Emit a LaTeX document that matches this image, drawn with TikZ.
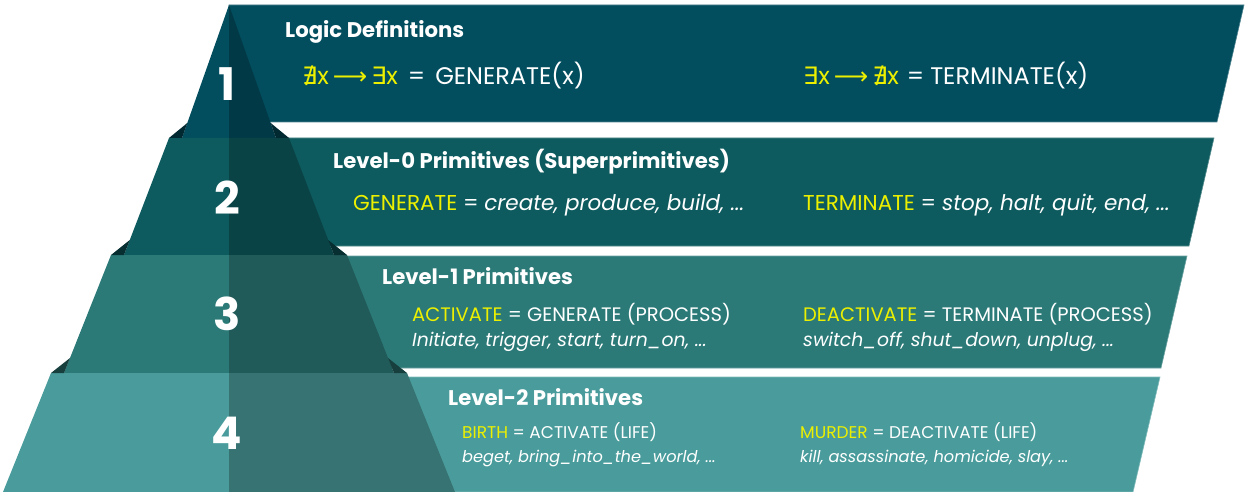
\documentclass[tikz,border=0pt]{standalone}
\usepackage{fontspec}
\setmainfont{Poppins}
\newfontfamily\symfont{DejaVu Sans}
\usepackage{xcolor}
\definecolor{lvlA}{HTML}{024E5F}
\definecolor{lvlB}{HTML}{0D5B5E}
\definecolor{lvlC}{HTML}{2B7A78}
\definecolor{lvlD}{HTML}{4A9C9C}
\definecolor{hilite}{RGB}{236,240,0}
\newcommand\keyw[1]{\textcolor{hilite}{#1}}
\newcommand\sym[1]{{\symfont #1}}
\tikzset{
  band/.style  = {fill=#1, draw=#1!70!white, line width=0.6pt},
  face/.style  = {fill=#1},
  dark/.style  = {fill=#1!74!black},
  lip/.style   = {fill=#1!52!black},
  num/.style   = {inner sep=0pt, text=white, font=\bfseries\fontsize{45}{50}\selectfont},
  head/.style  = {anchor=base west, inner sep=0pt, text=white, font=\bfseries\fontsize{21.2}{24}\selectfont},
  entry/.style = {anchor=base west, inner sep=0pt, text=white, font=\fontsize{#1}{#1}\selectfont},
}

\begin{document}
\begin{tikzpicture}[x=1pt, y=-1pt]
  \useasboundingbox (0,0) rectangle (1251,492);
  % bands
  \path[band=lvlA] (229,5) -- (1244,5) -- (1217,122) -- (229,122) -- cycle;
  \path[band=lvlB] (229,138) -- (1214,138) -- (1189,246) -- (229,246) -- cycle;
  \path[band=lvlC] (229,256) -- (1187,256) -- (1161,368) -- (229,368) -- cycle;
  \path[band=lvlD] (229,377) -- (1160,377) -- (1133,492) -- (229,492) -- cycle;
  % pyramid tiers
  \fill[face=lvlA] (229,5) -- (182,138) -- (229,138) -- cycle;
  \fill[dark=lvlA] (229,5) -- (276,138) -- (229,138) -- cycle;
  \fill[face=lvlB] (229,138) -- (169,138) -- (124,255) -- (229,255) -- cycle;
  \fill[dark=lvlB] (229,138) -- (289,138) -- (334,255) -- (229,255) -- cycle;
  \fill[face=lvlC] (229,255) -- (111,255) -- (64,373) -- (229,373) -- cycle;
  \fill[dark=lvlC] (229,255) -- (347,255) -- (394,373) -- (229,373) -- cycle;
  \fill[face=lvlD] (229,373) -- (51,373) -- (3,492) -- (229,492) -- cycle;
  \fill[dark=lvlD] (229,373) -- (407,373) -- (455,492) -- (229,492) -- cycle;
  % ledges under each tier
  \fill[lip=lvlA] (169,138) -- (187.3,123) -- (182,138) -- cycle;
  \fill[lip=lvlA] (289,138) -- (270.7,123) -- (276,138) -- cycle;
  \fill[lip=lvlB] (111,255) -- (129.8,240) -- (124,255) -- cycle;
  \fill[lip=lvlB] (347,255) -- (328.2,240) -- (334,255) -- cycle;
  \fill[lip=lvlC] (51,373) -- (70,358) -- (64,373) -- cycle;
  \fill[lip=lvlC] (407,373) -- (388,358) -- (394,373) -- cycle;

  \node[num] (n1) at (227,84) {1};
  \node[num] (n2) at (227,198) {2};
  \node[num] (n3) at (227,314) {3};
  \node[num] (n4) at (227,433) {4};

  \node[head] (h1) at (285,38) {Logic Definitions};
  \node[entry=24] (gen) at (302,85) {\keyw{\sym{∄}x\hspace{4pt}\sym{⟶}\hspace{4pt}\sym{∃}x}\hspace{10pt}=\hspace{10pt}GENERATE(x)};
  \node[entry=24] (term) at (803,85) {\keyw{\sym{∃}x\hspace{4pt}\sym{⟶}\hspace{4pt}\sym{∄}x}\hspace{8pt}=\hspace{6pt}TERMINATE(x)};

  \node[head] (h2) at (333,169) {Level-0 Primitives (Superprimitives)};
  \node[entry=21.5] (sgen) at (353,211) {\keyw{GENERATE} = \textit{create, produce, build, ...}};
  \node[entry=21.5] (sterm) at (803,211) {\keyw{TERMINATE} = \textit{stop, halt, quit, end, ...}};

  \node[head] (h3) at (382,284) {Level-1 Primitives};
  \node[entry=19.5] (act) at (412,321) {\keyw{ACTIVATE} = GENERATE (PROCESS)};
  \node[entry=18.8] (actx) at (412,346) {\textit{Initiate, trigger, start, turn\_on, ...}};
  \node[entry=19.5] (deact) at (803,321) {\keyw{DEACTIVATE} = TERMINATE (PROCESS)};
  \node[entry=18.8] (deactx) at (803,346) {\textit{switch\_off, shut\_down, unplug, ...}};

  \node[head] (h4) at (448,405) {Level-2 Primitives};
  \node[entry=17] (birth) at (462,438) {\keyw{BIRTH} = ACTIVATE (LIFE)};
  \node[entry=16.2] (birthx) at (462,462) {\textit{beget, bring\_into\_the\_world, ...}};
  \node[entry=17] (murder) at (800,438) {\keyw{MURDER} = DEACTIVATE (LIFE)};
  \node[entry=16.2] (murderx) at (800,462) {\textit{kill, assassinate, homicide, slay, ...}};
\end{tikzpicture}
\end{document}
